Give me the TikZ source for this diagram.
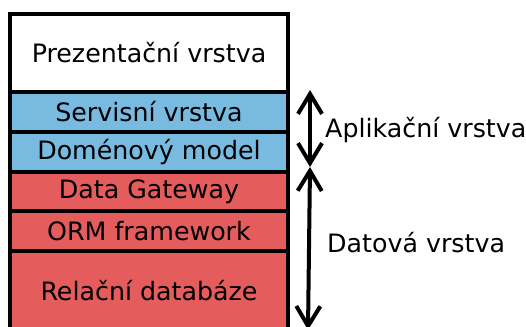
\documentclass[tikz,border=0pt]{standalone}
\usepackage{fontspec}
\setmainfont{DejaVu Sans}
\usetikzlibrary{arrows.meta}
\definecolor{appblue}{RGB}{121,186,225}
\definecolor{datared}{RGB}{228,92,92}
\begin{document}
\begin{tikzpicture}[x=1pt,y=-1pt,
  layer/.style={draw=black, line width=4pt, minimum width=278pt, inner sep=0pt,
    font=\fontsize{25.3}{30}\selectfont},
  span/.style={line width=4pt, {Straight Barb[length=20pt,width=24pt,line width=4pt]}-{Straight Barb[length=20pt,width=24pt,line width=4pt]}},
  tag/.style={anchor=west, inner sep=0pt, font=\fontsize{25.3}{30}\selectfont}]
\useasboundingbox (0,0) rectangle (526,326);
\clip (0,0) rectangle (526,326);
% stack of layers
\node[layer, fill=white, minimum height=78pt] (pres) at (149,53) {Prezentační vrstva};
\node[layer, fill=appblue, minimum height=40pt] (serv) at (149,112) {Servisní vrstva};
\node[layer, fill=appblue, minimum height=39.5pt] (dom) at (149,151.75) {Doménový model};
\node[layer, fill=datared, minimum height=39.5pt] (gw) at (149,191.25) {Data Gateway};
\node[layer, fill=datared, minimum height=39.5pt] (orm) at (149,230.75) {ORM framework};
\node[layer, fill=datared, minimum height=80pt] (db) at (149,290.5) {Relační databáze};
% extent markers
\coordinate (a1) at (310,90);
\coordinate (a2) at (310,167);
\coordinate (a3) at (308,330);
\draw[span] (a1) -- (a2);
\draw[span] (a2) -- (a3);
\node[tag] (app) at (325,130) {Aplikační vrstva};
\node[tag] (dat) at (327,243) {Datová vrstva};
\end{tikzpicture}
\end{document}
